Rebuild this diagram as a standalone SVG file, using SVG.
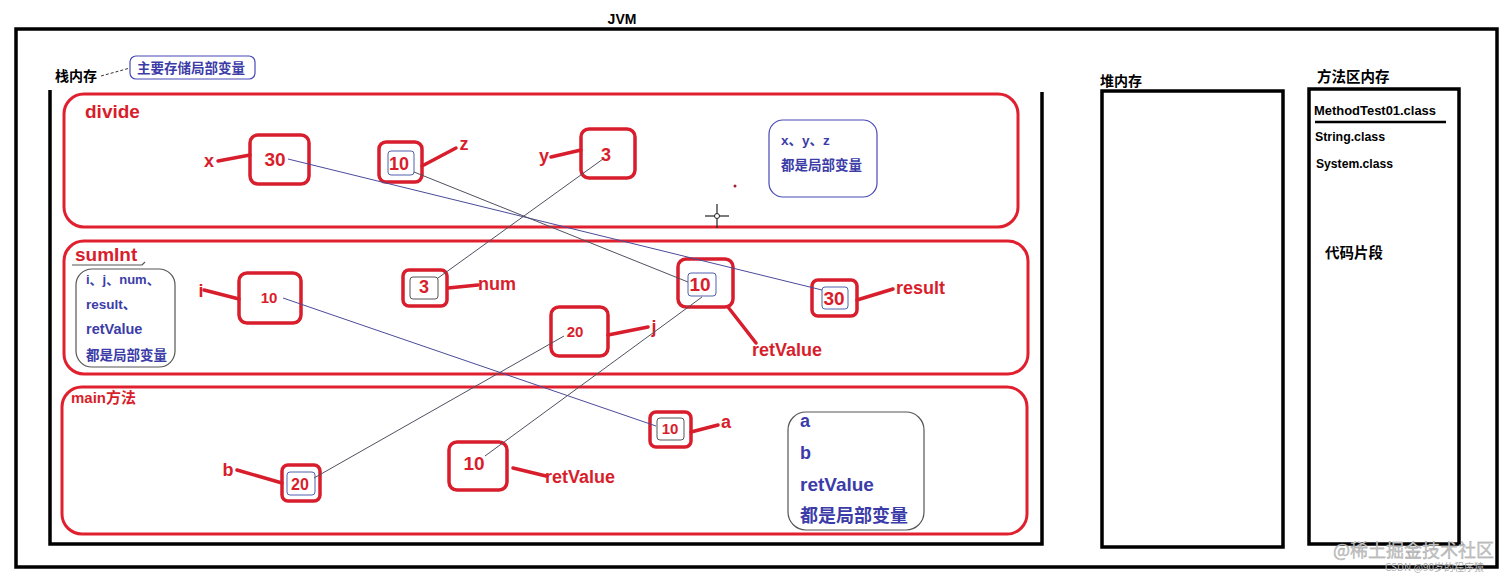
<svg xmlns="http://www.w3.org/2000/svg" width="1512" height="578" viewBox="0 0 1512 578">
<style>
.bk{fill:none;stroke:#000;stroke-width:3.5}
.fr{fill:none;stroke:#e0202e;stroke-width:3}
.bx{fill:#fff;stroke:#d81e2c;stroke-width:3.5}
.in{fill:none;stroke:#5060b0;stroke-width:1}
.ing{fill:none;stroke:#555;stroke-width:1}
.ld{stroke:#d81e2c;stroke-width:3.5;stroke-linecap:round;fill:none}
.cn{stroke:#4a4a9a;stroke-width:1;fill:none}
.cg{stroke:#505060;stroke-width:1;fill:none}
.t{font-family:"Liberation Sans","Noto Sans CJK SC",sans-serif;font-weight:bold}
.r{fill:#d81e2c}
.b{fill:#3c3ca8}
.k{fill:#000}
.co{fill:#fff;stroke:#4848b8;stroke-width:1.2}
.cog{fill:#fff;stroke:#555;stroke-width:1.2}
</style>

<!-- JVM outer -->
<g id="jvm">
<rect class="bk" x="16" y="29" width="1481" height="538"/>
<text class="t k" x="622" y="24" font-size="14" text-anchor="middle">JVM</text>
</g>

<!-- Stack memory -->
<g id="stack">
<path class="bk" d="M50,90 V544 H1042 V92"/>
<text class="t k" x="55" y="81" font-size="14">栈内存</text>
<path d="M101,76 L130,68" stroke="#333" stroke-width="1" stroke-dasharray="3,2" fill="none"/>
<rect class="co" x="130" y="56" width="125" height="23" rx="6"/>
<text class="t b" x="137" y="73" font-size="13.5">主要存储局部变量</text>
</g>

<!-- divide frame -->
<g id="divide">
<rect class="fr" x="64" y="94" width="954" height="133" rx="20"/>
<text class="t r" x="85" y="118" font-size="19">divide</text>
<rect class="co" x="769" y="120" width="108" height="77" rx="14"/>
<text class="t b" x="781" y="145" font-size="13.5">x、y、z</text>
<text class="t b" x="781" y="170" font-size="13.5">都是局部变量</text>
<circle cx="735" cy="186" r="1.5" fill="#a02030"/>
<g stroke="#222" stroke-width="1.2">
<line x1="705" y1="216" x2="729" y2="216"/>
<line x1="717" y1="204" x2="717" y2="228"/>
</g>
<circle cx="717" cy="216" r="2.5" fill="#fff" stroke="#222" stroke-width="1"/>
</g>

<g id="node-x">
<rect class="bx" x="250" y="135" width="59" height="49" rx="8"/>
<text class="t r" x="275" y="166" font-size="19" text-anchor="middle">30</text>
<path class="ld" d="M218,161 L250,155"/>
<text class="t r" x="209" y="167" font-size="18" text-anchor="middle">x</text>
</g>

<g id="node-z">
<rect class="bx" x="379" y="142" width="43" height="40" rx="7"/>
<rect class="in" x="388" y="151" width="26" height="24" rx="3"/>
<text class="t r" x="399" y="170" font-size="18" text-anchor="middle">10</text>
<path class="ld" d="M422,166 L456,148"/>
<text class="t r" x="464" y="150" font-size="18" text-anchor="middle">z</text>
</g>

<g id="node-y">
<rect class="bx" x="581" y="129" width="54" height="49" rx="8"/>
<text class="t r" x="606" y="161" font-size="18" text-anchor="middle">3</text>
<path class="ld" d="M551,157 L581,150"/>
<text class="t r" x="544" y="162" font-size="18" text-anchor="middle">y</text>
</g>

<!-- sumInt frame -->
<g id="sumInt">
<rect class="fr" x="64" y="241" width="964" height="133" rx="20"/>
<text class="t r" x="75" y="261" font-size="19">sumInt</text>
<path d="M72,265 H142 L145,262" stroke="#555" stroke-width="1.2" fill="none"/>
<rect class="cog" x="76" y="269" width="99" height="98" rx="16"/>
<text class="t b" x="86" y="284" font-size="13">i、j、num、</text>
<text class="t b" x="86" y="309" font-size="13.5">result、</text>
<text class="t b" x="86" y="334" font-size="14.5">retValue</text>
<text class="t b" x="86" y="360" font-size="13.5">都是局部变量</text>
</g>

<g id="node-i">
<rect class="bx" x="239" y="273" width="62" height="50" rx="8"/>
<text class="t r" x="269" y="303" font-size="15" text-anchor="middle">10</text>
<path class="ld" d="M204,290 L239,299"/>
<text class="t r" x="201" y="297" font-size="18" text-anchor="middle">i</text>
</g>

<g id="node-num">
<rect class="bx" x="403" y="270" width="44" height="36" rx="6"/>
<rect class="ing" x="410" y="277" width="28" height="22" rx="3"/>
<text class="t r" x="424" y="293" font-size="18" text-anchor="middle">3</text>
<path class="ld" d="M448,288 L478,285"/>
<text class="t r" x="478" y="290" font-size="18">num</text>
</g>

<g id="node-retValue-sum">
<rect class="bx" x="678" y="259" width="55" height="48" rx="8"/>
<rect class="in" x="688" y="273" width="28" height="23" rx="3"/>
<text class="t r" x="700" y="291" font-size="19" text-anchor="middle">10</text>
<path class="ld" d="M728,307 L756,343"/>
<text class="t r" x="752" y="356" font-size="18">retValue</text>
</g>

<g id="node-result">
<rect class="bx" x="812" y="280" width="45" height="36" rx="6"/>
<rect class="in" x="822" y="287" width="26" height="22" rx="3"/>
<text class="t r" x="834" y="305" font-size="19" text-anchor="middle">30</text>
<path class="ld" d="M857,300 L893,289"/>
<text class="t r" x="896" y="294" font-size="18">result</text>
</g>

<g id="node-j">
<rect class="bx" x="551" y="307" width="57" height="49" rx="8"/>
<text class="t r" x="575" y="337" font-size="15" text-anchor="middle">20</text>
<path class="ld" d="M608,335 L648,327"/>
<text class="t r" x="654" y="333" font-size="18" text-anchor="middle">j</text>
</g>

<!-- main frame -->
<g id="main">
<rect class="fr" x="62" y="387" width="965" height="147" rx="20"/>
<text class="t r" x="71" y="403" font-size="15">main方法</text>
<rect class="cog" x="788" y="412" width="136" height="118" rx="18"/>
<text class="t b" x="800" y="427" font-size="18">a</text>
<text class="t b" x="800" y="459" font-size="18">b</text>
<text class="t b" x="800" y="491" font-size="19">retValue</text>
<text class="t b" x="800" y="522" font-size="18">都是局部变量</text>
</g>

<g id="node-b">
<rect class="bx" x="282" y="465" width="38" height="36" rx="6"/>
<rect class="in" x="287" y="472" width="28" height="23" rx="3"/>
<text class="t r" x="300" y="490" font-size="16" text-anchor="middle">20</text>
<path class="ld" d="M237,470 L282,483"/>
<text class="t r" x="228" y="476" font-size="18" text-anchor="middle">b</text>
</g>

<g id="node-retValue-main">
<rect class="bx" x="449" y="442" width="58" height="48" rx="8"/>
<text class="t r" x="474" y="470" font-size="19" text-anchor="middle">10</text>
<path class="ld" d="M513,468 L546,476"/>
<text class="t r" x="545" y="483" font-size="18">retValue</text>
</g>

<g id="node-a">
<rect class="bx" x="650" y="412" width="41" height="35" rx="6"/>
<rect class="ing" x="657" y="418" width="27" height="22" rx="3"/>
<text class="t r" x="670" y="434" font-size="15" text-anchor="middle">10</text>
<path class="ld" d="M691,432 L718,425"/>
<text class="t r" x="726" y="428" font-size="18" text-anchor="middle">a</text>
</g>

<!-- heap -->
<g id="heap">
<text class="t k" x="1100" y="86" font-size="14">堆内存</text>
<rect class="bk" x="1102" y="91" width="181" height="456"/>
</g>

<!-- method area -->
<g id="method-area">
<text class="t k" x="1317" y="82" font-size="14.5">方法区内存</text>
<rect class="bk" x="1309" y="89" width="150" height="455"/>
<text class="t k" x="1314" y="115" font-size="12" textLength="122" lengthAdjust="spacingAndGlyphs">MethodTest01.class</text>
<line x1="1315" y1="122" x2="1446" y2="122" stroke="#000" stroke-width="2.5"/>
<text class="t k" x="1315" y="141" font-size="12" textLength="70" lengthAdjust="spacingAndGlyphs">String.class</text>
<text class="t k" x="1316" y="168" font-size="12" textLength="77" lengthAdjust="spacingAndGlyphs">System.class</text>
<text class="t k" x="1325" y="258" font-size="14.5">代码片段</text>
</g>

<!-- connectors -->
<g id="connectors">
<path class="cn" d="M288,159 L822,290"/>
<path class="cg" d="M414,172 L688,282"/>
<path class="cg" d="M603,159 L438,278"/>
<path class="cn" d="M283,298 L656,426"/>
<path class="cg" d="M564,336 L314,478"/>
<path class="cg" d="M702,297 L485,456"/>
</g>

<!-- watermark -->
<g id="watermark">
<text x="1333" y="557" font-family="'Noto Sans CJK SC',sans-serif" font-size="18" fill="#c8c8c8" stroke="#999" stroke-width="0.3">@稀土掘金技术社区</text>
<text x="1385" y="571" font-family="'Noto Sans CJK SC',sans-serif" font-size="10" fill="#b0b0b0">CSDN @90岁的程序猿</text>
</g>
</svg>
